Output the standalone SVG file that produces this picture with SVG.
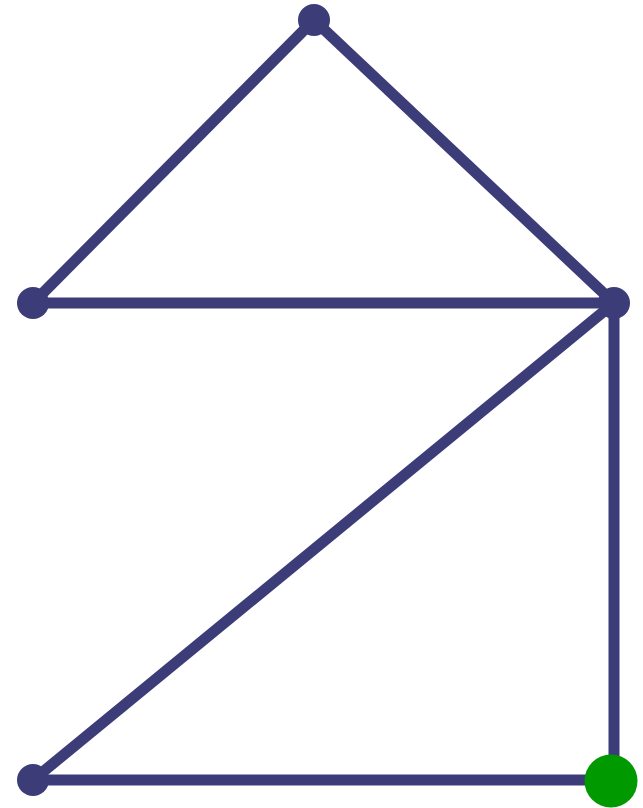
<svg xmlns="http://www.w3.org/2000/svg" width="643" height="808" viewBox="0 0 643 808">
<style>
.e{stroke:#3c3c78;stroke-width:11;fill:none;stroke-linecap:butt}
.n{fill:#3c3c78}
.g{fill:#009900}
</style>
<rect width="643" height="808" fill="#ffffff"/>
<g id="edges">
<line class="e" x1="314" y1="20" x2="33" y2="303"/>
<line class="e" x1="314" y1="20" x2="614" y2="303"/>
<line class="e" x1="33" y1="303" x2="614" y2="303"/>
<line class="e" x1="614" y1="303" x2="33" y2="780"/>
<line class="e" x1="614" y1="303" x2="614" y2="780"/>
<line class="e" x1="33" y1="780" x2="611" y2="780"/>
</g>
<g id="n1"><circle class="n" cx="314" cy="20" r="16"/></g>
<g id="n2"><circle class="n" cx="33" cy="303" r="16"/></g>
<g id="n3"><circle class="n" cx="614" cy="303" r="16"/></g>
<g id="n4"><circle class="n" cx="33" cy="780" r="16"/></g>
<g id="n5"><circle class="g" cx="611" cy="781" r="26.5"/></g>
</svg>
